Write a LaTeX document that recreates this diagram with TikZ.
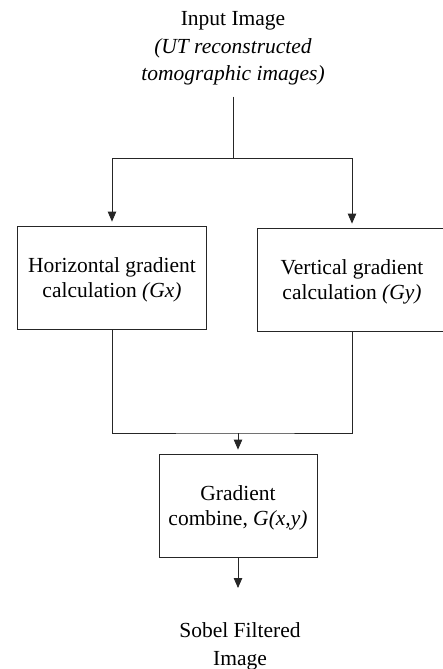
\documentclass[tikz,border=0pt]{standalone}
\usepackage{fontspec}
\setmainfont{Liberation Serif}
\usetikzlibrary{arrows.meta}
\begin{document}
\begin{tikzpicture}[x=1bp,y=-1bp,
  box/.style={draw=black!85, line width=0.8bp, minimum width=189bp, minimum height=103bp, align=center, inner sep=0pt, font=\fontsize{21.5bp}{25bp}\selectfont},
  lbl/.style={align=center, inner sep=0pt, font=\fontsize{21.5bp}{27.5bp}\selectfont},
  conn/.style={draw=black!85, line width=0.8bp},
  arr/.style={conn, -{Triangle[length=10bp,width=8.5bp]}, shorten >=4bp}]
\clip (0,0) rectangle (443,669);
\useasboundingbox (0,0) rectangle (443,669);
\node[lbl] (inp) at (233,48.5) {Input Image\\\textit{(UT reconstructed}\\\textit{tomographic images)}};
\node[box] (hgc) at (112,277.5) {\rule{0pt}{20bp}Horizontal gradient\\calculation \textit{(Gx)}};
\node[box] (vgc) at (352,279.5) {\rule{0pt}{20bp}Vertical gradient\\calculation \textit{(Gy)}};
\node[box, minimum width=158bp] (cmb) at (238,505.5) {\rule{0pt}{20bp}Gradient\\combine, \textit{G(x,y)}};
\node[lbl] (out) at (240,646.5) {Sobel Filtered\\Image};
\coordinate (j1) at (233,158);
\coordinate (j2) at (238,433);
\coordinate (oe) at (238,592);
\draw[conn, shorten <=11bp] (inp.south) -- (j1);
\draw[arr] (j1) -| (hgc.north);
\draw[arr] (j1) -| (vgc.north);
\draw[conn] (hgc.south) |- (j2) -| (vgc.south);
\draw[arr] (j2) -- (cmb.north);
\draw[arr] (cmb.south) -- (oe);
\end{tikzpicture}
\end{document}
